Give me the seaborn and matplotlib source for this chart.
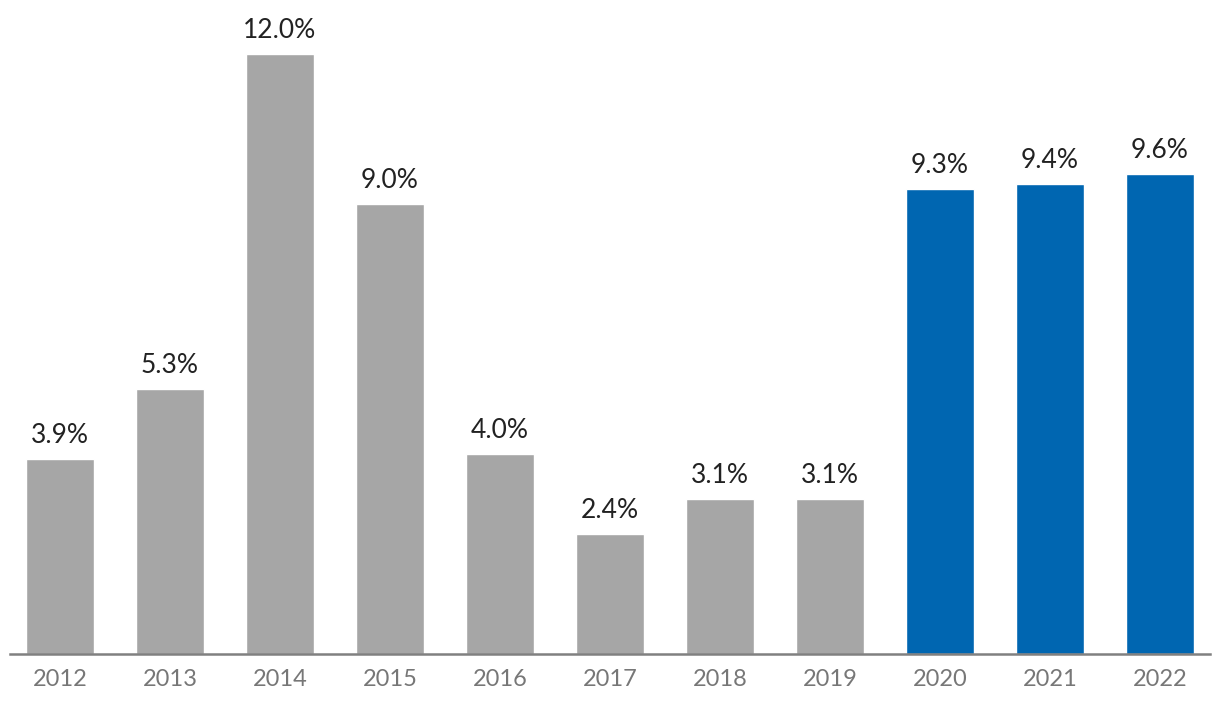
import matplotlib
matplotlib.use("Agg")
import matplotlib.pyplot as plt
import pandas as pd
import seaborn as sns

years = ["2012", "2013", "2014", "2015", "2016", "2017", "2018", "2019", "2020", "2021", "2022"]
growth = [3.9, 5.3, 12.0, 9.0, 4.0, 2.4, 3.1, 3.1, 9.3, 9.4, 9.6]
recent = [False] * 8 + [True] * 3

GRAY = "#a6a6a6"
BLUE = "#0066b1"


def main() -> None:
    sns.set_theme(style="white")
    plt.rcParams["font.family"] = ["Lato", "DejaVu Sans"]

    df = pd.DataFrame({"year": years, "growth": growth, "recent": recent})
    palette = {y: (BLUE if r else GRAY) for y, r in zip(years, recent)}

    fig = plt.figure(figsize=(12.2, 7.12), dpi=100)
    ax = fig.add_axes([10 / 1220, 58 / 712, 1200 / 1220, 654 / 712])
    sns.barplot(
        data=df,
        x="year",
        y="growth",
        hue="year",
        palette=palette,
        width=0.618,
        legend=False,
        saturation=1,
        ax=ax,
    )

    for container in ax.containers:
        ax.bar_label(
            container,
            labels=[f"{v:.1f}%" for v in container.datavalues],
            padding=8,
            fontsize=19,
            color="#222222",
        )

    ax.set_xlim(-0.4545, 10.4545)
    ax.set_ylim(0, 13.08)
    ax.set_xlabel("")
    ax.set_ylabel("")
    ax.set_yticks([])
    for side in ["top", "right", "left"]:
        ax.spines[side].set_visible(False)
    ax.spines["bottom"].set_color("#808080")
    ax.spines["bottom"].set_linewidth(1.8)
    ax.tick_params(axis="x", length=0, pad=11, labelsize=17, labelcolor="#777777")

    fig.savefig("out.png", dpi=100)
    plt.close(fig)


if __name__ == "__main__":
    main()
